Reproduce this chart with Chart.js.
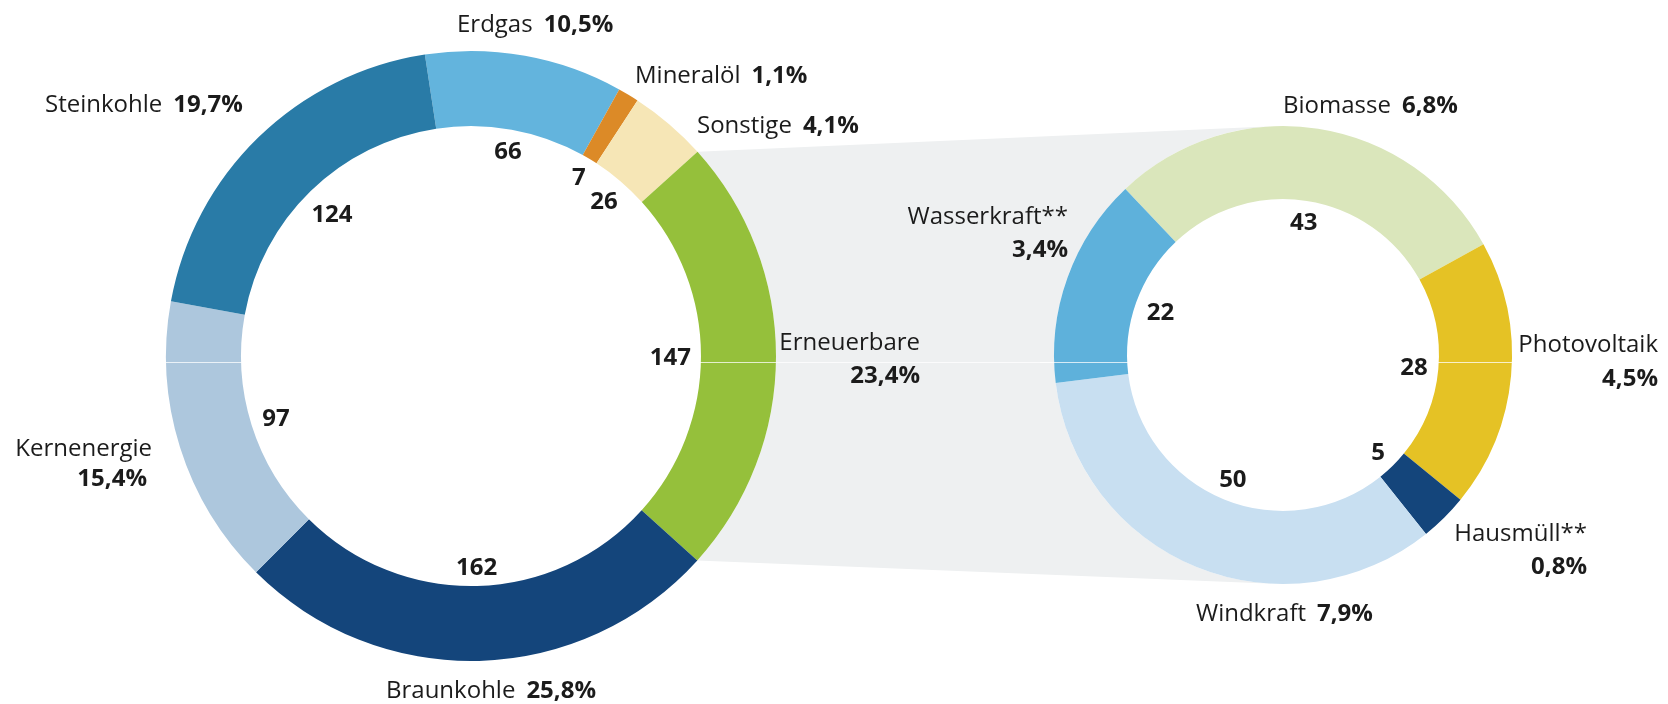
<!DOCTYPE html>
<html><head><meta charset="utf-8">
<script src="https://cdn.jsdelivr.net/npm/chart.js@4.4.1/dist/chart.umd.min.js"></script>
<style>
html,body{margin:0;padding:0;background:#fff;}
#wrap{position:relative;width:1668px;height:704px;overflow:hidden;background:#fff;}
canvas{position:absolute;left:0;top:0;}
</style></head><body>
<div id="wrap"><canvas id="left" width="1668" height="704"></canvas><canvas id="right" width="1668" height="704"></canvas></div>
<script>
// ---- data ----
const mainCategories = ['Erdgas','Mineralöl','Sonstige','Erneuerbare','Braunkohle','Kernenergie','Steinkohle'];
const mainValues     = [66, 7, 26, 147, 162, 97, 124];
const mainShares     = ['10,5','1,1','4,1','23,4','25,8','15,4','19,7'];
const renewCategories = ['Biomasse','Photovoltaik','Hausmüll**','Windkraft','Wasserkraft**'];
const renewValues     = [43, 28, 5, 50, 22];
const renewShares     = ['6,8','4,5','0,8','7,9','3,4'];
const expandedIndex = 3; // Erneuerbare

// ---- styles ----
const mainColors  = ['#63b4dd','#dc8a27','#f6e6b6','#95c03b','#14457b','#adc7dd','#297ba7'];
const renewColors = ['#dae6bb','#e5c225','#14457b','#c8dff1','#5eb1db'];
const grayFill = '#eef0f1';
const FONT = '"Open Sans", "Noto Sans", sans-serif';
const FS = 24;
const TEXT = '#1b1b1b';

// outer label layout: inline = name then bold share on one line (x = left edge)
// stack = name over share, right aligned (x = right edge of name, x2 = right edge of share)
const mainLabelLayout = [
  {mode:'inline', x:457, y:23},
  {mode:'inline', x:635, y:74},
  {mode:'inline', x:697, y:124},
  {mode:'stack',  x:920, y:341, x2:920, y2:374},
  {mode:'inline', x:386, y:689},
  {mode:'stack',  x:152, y:447, x2:147, y2:477},
  {mode:'inline', x:45,  y:103}
];
const renewLabelLayout = [
  {mode:'inline', x:1283, y:104},
  {mode:'stack',  x:1658, y:343, x2:1658, y2:377},
  {mode:'stack',  x:1587, y:532, x2:1587, y2:565},
  {mode:'inline', x:1196, y:612},
  {mode:'stack',  x:1068, y:215, x2:1068, y2:248}
];

function base(y){ return y + FS*0.357; }

function seam(ctx, x0, x1){
  ctx.save();
  ctx.strokeStyle = 'rgba(255,255,255,0.75)';
  ctx.lineWidth = 1;
  ctx.beginPath(); ctx.moveTo(x0, 362.5); ctx.lineTo(x1, 362.5); ctx.stroke();
  ctx.restore();
}

function drawLabels(chart, names, shares, layout){
  const ctx = chart.ctx;
  const meta = chart.getDatasetMeta(0);
  const vals = chart.data.datasets[0].data;
  ctx.save();
  ctx.fillStyle = TEXT;
  ctx.textBaseline = 'alphabetic';
  // value labels inside the ring
  ctx.font = 'bold ' + FS + 'px ' + FONT;
  ctx.textAlign = 'center';
  meta.data.forEach((arc, i) => {
    const mid = (arc.startAngle + arc.endAngle) / 2;
    const txt = String(vals[i]);
    const w = ctx.measureText(txt).width;
    const h = FS*0.714;
    const rc = arc.innerRadius - 10 - Math.abs(Math.cos(mid))*w/2 - Math.abs(Math.sin(mid))*h/2;
    ctx.fillText(txt, arc.x + rc*Math.cos(mid), base(arc.y + rc*Math.sin(mid)));
  });
  // outer labels
  layout.forEach((L, i) => {
    const name = names[i], pct = shares[i] + '%';
    if (L.mode === 'inline') {
      ctx.textAlign = 'left';
      ctx.font = FS + 'px ' + FONT;
      ctx.fillText(name, L.x, base(L.y));
      const w = ctx.measureText(name).width;
      ctx.font = 'bold ' + FS + 'px ' + FONT;
      ctx.fillText(pct, L.x + w + 11, base(L.y));
    } else {
      ctx.textAlign = 'right';
      ctx.font = FS + 'px ' + FONT;
      ctx.fillText(name, L.x, base(L.y));
      ctx.font = 'bold ' + FS + 'px ' + FONT;
      ctx.fillText(pct, L.x2, base(L.y2));
    }
  });
  ctx.restore();
}

let rightChart, leftChart;

function build(){
  rightChart = new Chart(document.getElementById('right'), {
    type:'doughnut',
    data:{ labels: renewCategories, datasets:[{ data: renewValues, backgroundColor: renewColors, borderWidth:0, hoverOffset:0 }]},
    options:{
      responsive:false, animation:false, devicePixelRatio:1,
      rotation:-43.5, cutout:'68.1%',
      layout:{ padding:{ left:1054, right:156, top:126, bottom:120 } },
      plugins:{ legend:{display:false}, tooltip:{enabled:false} },
      events:[]
    },
    plugins:[{
      id:'renewLabels',
      afterDatasetsDraw(chart){ seam(chart.ctx, 1040, 1515); },
      afterDraw(chart){ drawLabels(chart, renewCategories, renewShares, renewLabelLayout); }
    }]
  });

  leftChart = new Chart(document.getElementById('left'), {
    type:'doughnut',
    data:{ labels: mainCategories, datasets:[{ data: mainValues, backgroundColor: mainColors, borderWidth:0, hoverOffset:0 }]},
    options:{
      responsive:false, animation:false, devicePixelRatio:1,
      rotation:-8.7, cutout:'75.4%',
      layout:{ padding:{ left:166, right:892, top:51, bottom:43 } },
      plugins:{ legend:{display:false}, tooltip:{enabled:false} },
      events:[]
    },
    plugins:[{
      id:'grayBand',
      beforeDatasetsDraw(chart){
        const ctx = chart.ctx;
        const arc = chart.getDatasetMeta(0).data[expandedIndex];
        const rarc = rightChart.getDatasetMeta(0).data[0];
        const cx = arc.x, cy = arc.y, R = arc.outerRadius;
        const qx = rarc.x, qy = rarc.y, Q = rarc.outerRadius;
        const p1 = {x: cx + R*Math.cos(arc.startAngle), y: cy + R*Math.sin(arc.startAngle)};
        const p4 = {x: cx + R*Math.cos(arc.endAngle),   y: cy + R*Math.sin(arc.endAngle)};
        function tangent(p, sign){
          const dx = qx - p.x, dy = qy - p.y, d = Math.hypot(dx, dy);
          const th = Math.atan2(dy, dx), al = Math.asin(Q/d), L = Math.sqrt(d*d - Q*Q);
          const a = th + sign*al;
          return {x: p.x + L*Math.cos(a), y: p.y + L*Math.sin(a)};
        }
        const t1 = tangent(p1, -1), t4 = tangent(p4, 1);
        const a4 = Math.atan2(t4.y - qy, t4.x - qx), a1 = Math.atan2(t1.y - qy, t1.x - qx);
        ctx.save();
        ctx.beginPath();
        ctx.arc(cx, cy, R, arc.startAngle, arc.endAngle, false);
        ctx.lineTo(t4.x, t4.y);
        ctx.arc(qx, qy, Q, a4, a1, false);
        ctx.closePath();
        ctx.fillStyle = grayFill;
        ctx.fill();
        ctx.restore();
      },
      afterDatasetsDraw(chart){ seam(chart.ctx, 165, 1060); },
      afterDraw(chart){ drawLabels(chart, mainCategories, mainShares, mainLabelLayout); }
    }]
  });
}

if (document.fonts && document.fonts.load) {
  Promise.all([
    document.fonts.load(FS + 'px "Open Sans"'),
    document.fonts.load('bold ' + FS + 'px "Open Sans"')
  ]).then(build, build);
} else { build(); }
</script>
</body></html>
